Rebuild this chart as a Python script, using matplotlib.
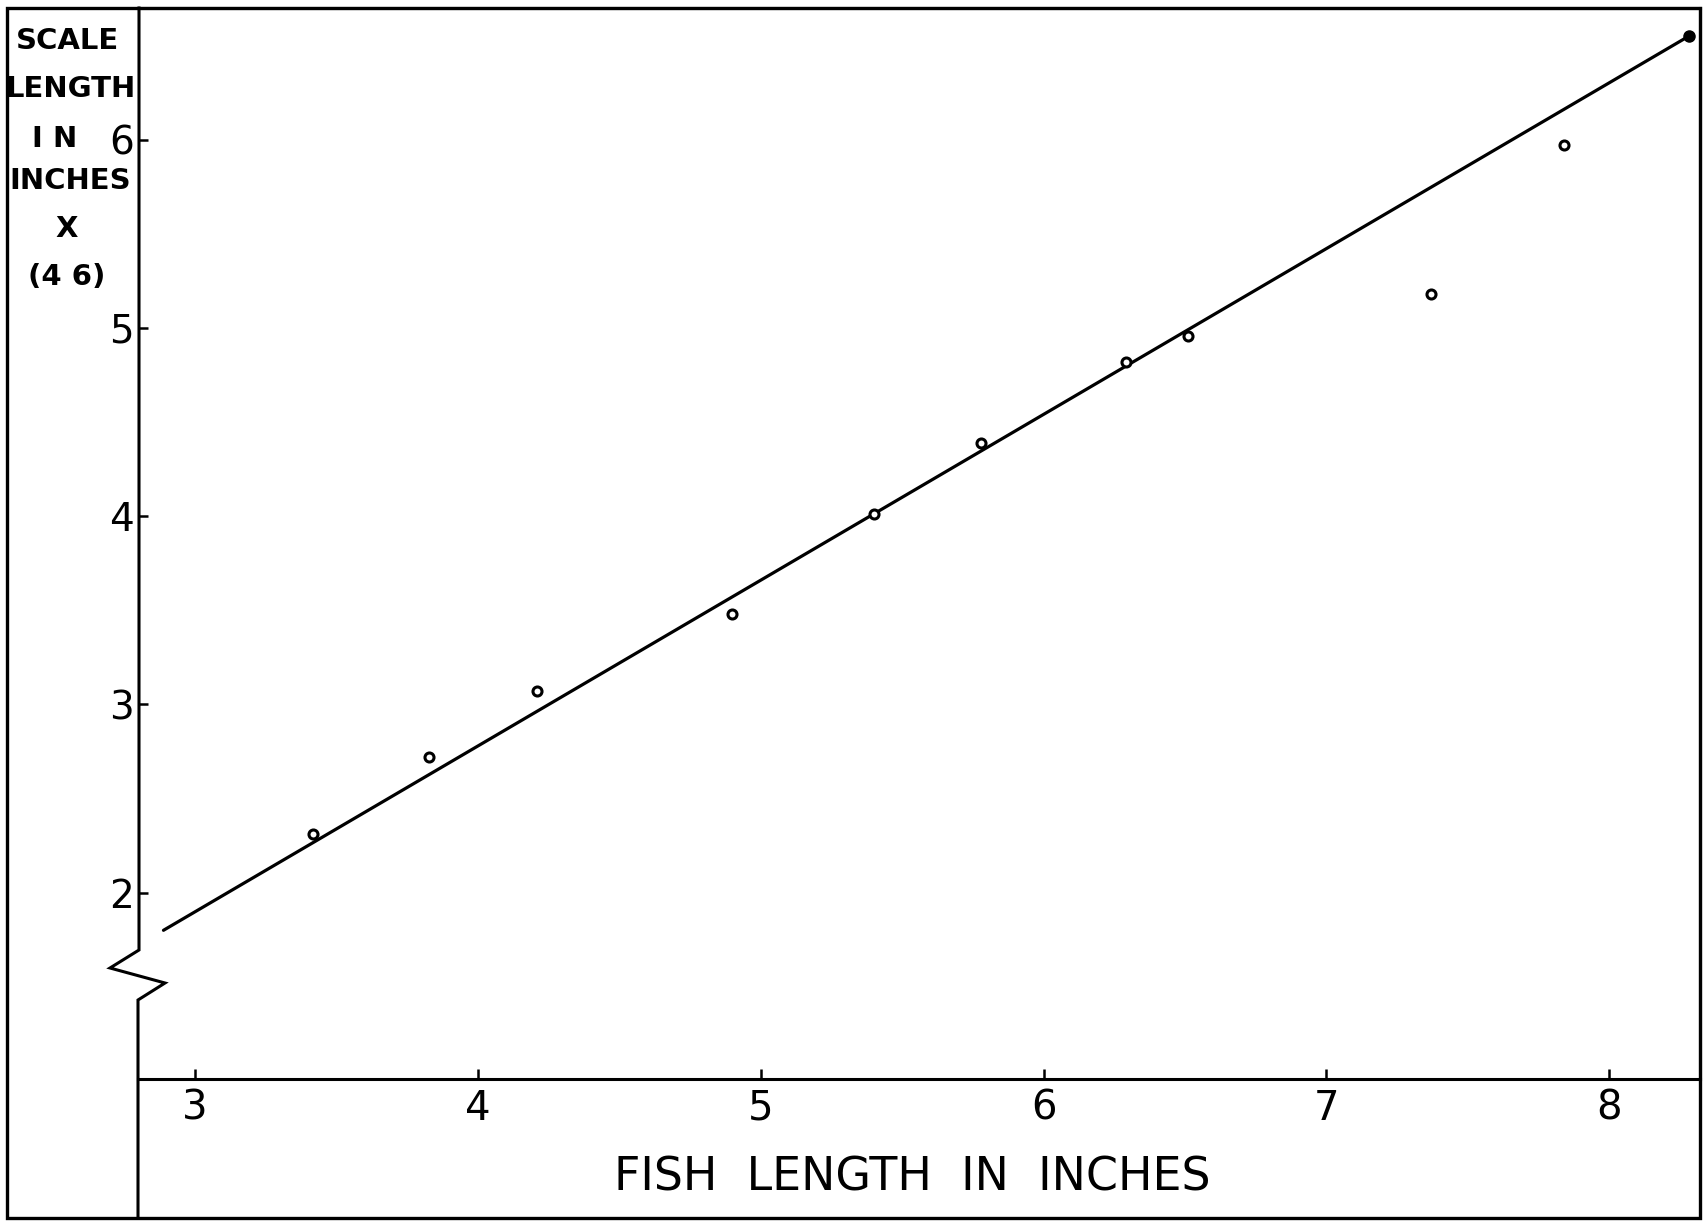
import matplotlib
matplotlib.use("Agg")
import matplotlib.pyplot as plt
from matplotlib.lines import Line2D
from matplotlib.patches import Rectangle

# observed points (fish length, scale length x 46)
fish_len = [3.42, 3.83, 4.21, 4.90, 5.40, 5.78, 6.29, 6.51, 7.37, 7.84]
scale_len = [2.31, 2.72, 3.07, 3.48, 4.01, 4.39, 4.82, 4.96, 5.18, 5.97]

# the solid end point of the fitted line
end_x = [8.28]
end_y = [6.55]

# fitted line ends
fit_x = [2.89, 8.28]
fit_y = [1.80, 6.55]

x_ticks = [3, 4, 5, 6, 7, 8]
y_ticks = [2, 3, 4, 5, 6]

W, H = 1705, 1223
fig = plt.figure(figsize=(W / 100, H / 100), dpi=100)
fig.patch.set_facecolor("white")


def fx(px):
    return px / W


def fy(py):
    return 1 - py / H


ax_l, ax_r, ax_t, ax_b = 138, 1700, 8, 1079
ax = fig.add_axes([fx(ax_l), fy(ax_b), fx(ax_r - ax_l), (ax_b - ax_t) / H])
ax.set_xlim(2.80, 8.32)
ax.set_ylim(1.01, 6.70)

ax.plot(fit_x, fit_y, color="black", lw=2.3, solid_capstyle="round")
ax.plot(fish_len, scale_len, "o", ms=6.5, mfc="white", mec="black", mew=2.2)
ax.plot(end_x, end_y, "o", ms=8, mfc="black", mec="black")

ax.set_xticks(x_ticks)
ax.set_yticks(y_ticks)
ax.tick_params(direction="in", length=7, width=1.8, colors="black")
ax.tick_params(axis="x", labelsize=29, pad=7)
ax.tick_params(axis="y", labelsize=28, pad=3)

ax.spines["left"].set_visible(False)
for s in ["top", "right", "bottom"]:
    ax.spines[s].set_linewidth(2.2)

# outer frame
fig.add_artist(Rectangle((fx(7), fy(1218)), fx(1700 - 7), (1218 - 8) / H,
                         transform=fig.transFigure, fill=False,
                         edgecolor="black", lw=2.4))

# broken y axis line running to the bottom of the frame
brk_px = [(139, 8), (139, 950), (110, 968), (165, 983), (138, 1000), (138, 1218)]
fig.add_artist(Line2D([fx(p[0]) for p in brk_px], [fy(p[1]) for p in brk_px],
                      transform=fig.transFigure, color="black", lw=2.2,
                      solid_joinstyle="miter"))

# y axis title, stacked in the left column
ylab = [("SCALE", 68, 41), ("LENGTH", 70, 89), ("I N", 55, 139),
        ("INCHES", 70, 181), ("X", 67, 229), ("(4 6)", 67, 277)]
for txt, px, py in ylab:
    fig.text(fx(px), fy(py), txt, ha="center", va="center",
             fontsize=21, fontweight="bold")

fig.text(fx(912), fy(1178), "FISH  LENGTH  IN  INCHES", ha="center",
         va="center", fontsize=33)

fig.savefig("out.png", dpi=100, facecolor="white")
